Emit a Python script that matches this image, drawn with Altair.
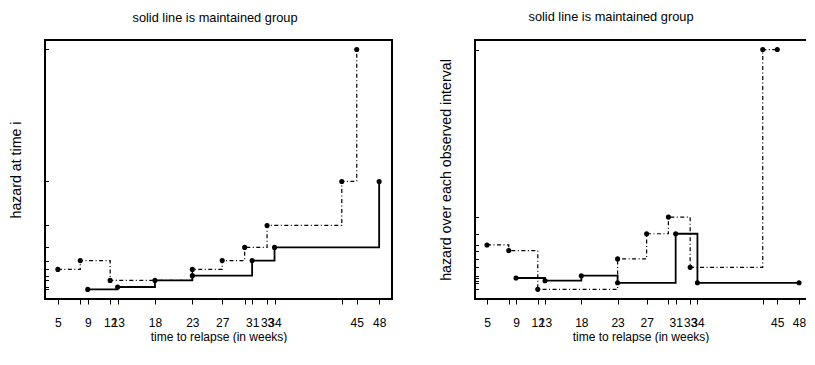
import altair as alt
import pandas as pd

# ---- data ----
maint_times = [9, 13, 18, 23, 31, 34, 48]
maint_hazard_point = [0.0909, 0.1, 0.125, 0.1429, 0.2, 0.25, 0.5]
maint_hazard_interval = [0.0227, 0.02, 0.025, 0.0179, 0.0667, 0.0179, 0.0179]

nonmaint_times = [5, 8, 12, 23, 27, 30, 33, 43, 45]
nonmaint_hazard_point = [0.1667, 0.2, 0.125, 0.1667, 0.2, 0.25, 0.3333, 0.5, 1.0]
nonmaint_hazard_interval = [0.0556, 0.05, 0.0114, 0.0417, 0.0667, 0.0833, 0.0333, 0.25, 0.25]

x_ticks = [5, 8, 9, 12, 13, 18, 23, 27, 30, 31, 33, 34, 43, 45, 48]
x_unlabeled = [8, 30, 43]

main_title = "solid line is maintained group"
x_title = "time to relapse (in weeks)"
left_ytitle = "hazard at time i"
right_ytitle = "hazard over each observed interval"

FONT = "Liberation Sans"
H = 259


def panel(m_h, n_h, xdom, ydom, ytitle, width, title_dx, full_frame):
    dm = pd.DataFrame({"time": maint_times, "hazard": m_h})
    dn = pd.DataFrame({"time": nonmaint_times, "hazard": n_h})
    yvals = sorted(set(m_h) | set(n_h))

    x = alt.X(
        "time:Q",
        scale=alt.Scale(domain=xdom, nice=False, zero=False),
        axis=alt.Axis(
            values=x_ticks,
            title=x_title,
            grid=False,
            domain=False,
            tickSize=5,
            tickColor="black",
            tickWidth=1,
            labelFont=FONT,
            labelFontSize=12,
            labelColor="black",
            labelOverlap=False,
            labelFlush=False,
            labelBound=False,
            labelPadding=13,
            labelExpr="indexof(%s, datum.value) >= 0 ? '' : datum.label" % str(x_unlabeled),
            titleFont=FONT,
            titleFontSize=12,
            titleFontWeight="normal",
            titleColor="black",
            titlePadding=3,
        ),
    )
    y = alt.Y(
        "hazard:Q",
        scale=alt.Scale(domain=ydom, nice=False, zero=False),
        axis=alt.Axis(
            values=yvals,
            labels=False,
            grid=False,
            domain=False,
            tickSize=3.5,
            offset=-3.5,
            tickColor="black",
            tickWidth=1,
            title=ytitle,
            titleFont=FONT,
            titleFontSize=14.2,
            titleFontWeight="normal",
            titleColor="black",
            titlePadding=21,
        ),
    )

    m_line = alt.Chart(dm).mark_line(
        interpolate="step-after", color="black", strokeWidth=1.8
    ).encode(x=x, y=y)
    m_pts = alt.Chart(dm).mark_circle(color="black", size=26, opacity=1).encode(x=x, y=y)
    n_line = alt.Chart(dn).mark_line(
        interpolate="step-after", color="black", strokeWidth=1.2,
        strokeDash=[4, 2.5, 1, 2.5]
    ).encode(x=x, y=y)
    n_pts = alt.Chart(dn).mark_circle(color="black", size=26, opacity=1).encode(x=x, y=y)

    layers = [n_line, m_line, n_pts, m_pts]
    if full_frame:
        view = alt.ViewBackground(stroke="black", strokeWidth=2)
    else:
        # frame cut at the right edge of the picture: left, top, bottom sides only
        one = pd.DataFrame({"k": [0]})
        left_side = alt.Chart(one).mark_rule(color="black", strokeWidth=2).encode(
            x=alt.value(0), y=alt.value(0), y2=alt.value(H))
        top_side = alt.Chart(one).mark_rule(color="black", strokeWidth=2).encode(
            x=alt.value(-1), x2=alt.value(width), y=alt.value(0))
        bottom_side = alt.Chart(one).mark_rule(color="black", strokeWidth=2).encode(
            x=alt.value(-1), x2=alt.value(width), y=alt.value(H))
        layers += [left_side, top_side, bottom_side]
        view = alt.ViewBackground(stroke=None)

    return alt.layer(*layers, view=view).properties(
        width=width,
        height=H,
        title=alt.Title(
            main_title,
            font=FONT,
            fontSize=12.8,
            fontWeight="normal",
            color="black",
            baseline="bottom",
            offset=2,
            dx=title_dx,
        ),
    )


left = panel(maint_hazard_point, nonmaint_hazard_point, [3.28, 49.72], [0.0545, 1.036],
             left_ytitle, 347, -3.5, True)
right = panel(maint_hazard_interval, nonmaint_hazard_interval, [3.35, 48.96], [0.0018, 0.2595],
              right_ytitle, 331, -29.5, False)

chart = alt.hconcat(left, right, spacing=46).properties(
    padding={"left": 0, "top": 3, "right": 0, "bottom": 0},
    background="white",
)

chart.save("out.html", embed_options={"renderer": "svg", "actions": False})
